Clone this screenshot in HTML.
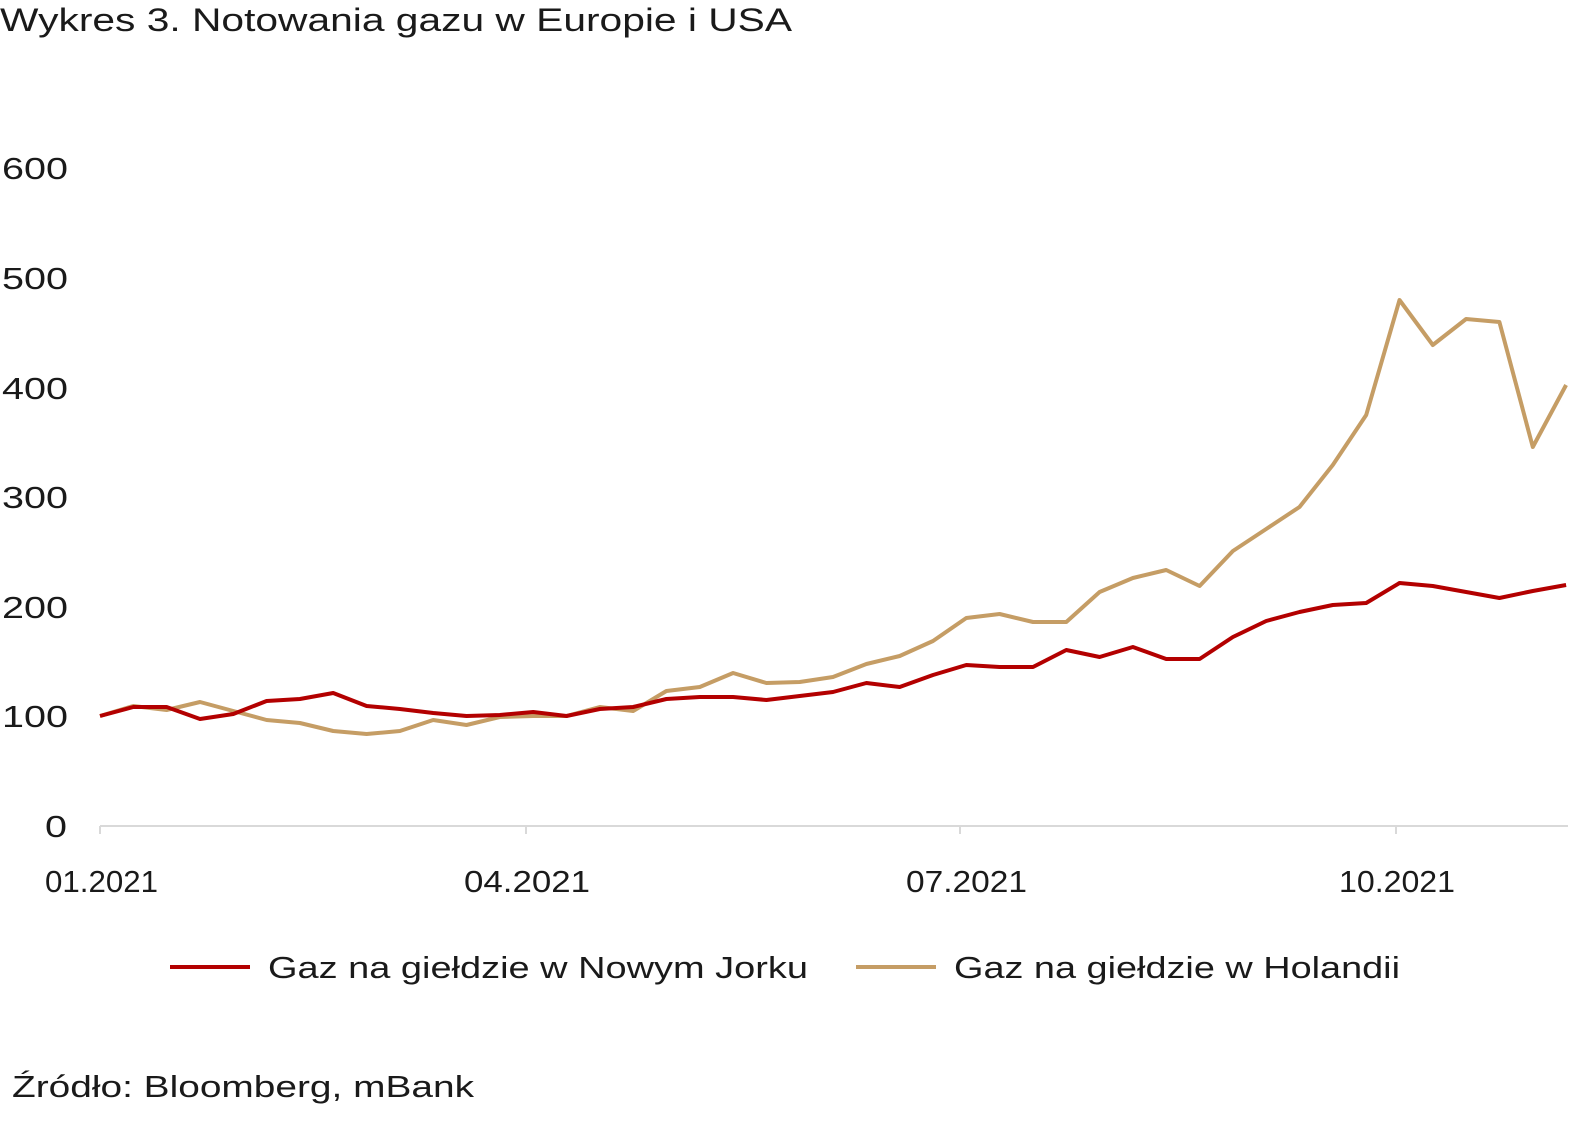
<!DOCTYPE html>
<html><head><meta charset="utf-8"><style>
body{margin:0;background:#fff;}
svg text{font-family:"Liberation Sans",sans-serif;fill:#1a1a1a;}
</style></head><body>
<svg width="1595" height="1126" viewBox="0 0 1595 1126" xmlns="http://www.w3.org/2000/svg">
<text x="0" y="31" font-size="32" textLength="792" lengthAdjust="spacingAndGlyphs">Wykres 3. Notowania gazu w Europie i USA</text>
<g font-size="31">
<text x="2" y="179" textLength="66" lengthAdjust="spacingAndGlyphs">600</text>
<text x="2" y="289" textLength="66" lengthAdjust="spacingAndGlyphs">500</text>
<text x="2" y="399" textLength="66" lengthAdjust="spacingAndGlyphs">400</text>
<text x="2" y="508" textLength="66" lengthAdjust="spacingAndGlyphs">300</text>
<text x="2" y="618" textLength="66" lengthAdjust="spacingAndGlyphs">200</text>
<text x="2" y="727" textLength="66" lengthAdjust="spacingAndGlyphs">100</text>
<text x="45" y="837" textLength="22" lengthAdjust="spacingAndGlyphs">0</text>
<text x="45" y="892" textLength="113" lengthAdjust="spacingAndGlyphs">01.2021</text>
<text x="464" y="892" textLength="126" lengthAdjust="spacingAndGlyphs">04.2021</text>
<text x="906" y="892" textLength="121" lengthAdjust="spacingAndGlyphs">07.2021</text>
<text x="1339" y="892" textLength="116" lengthAdjust="spacingAndGlyphs">10.2021</text>
</g>
<line x1="100" y1="826" x2="1568" y2="826" stroke="#d9d9d9" stroke-width="2"/>
<g stroke="#d9d9d9" stroke-width="2"><line x1="100" y1="826" x2="100" y2="834"/><line x1="526" y1="826" x2="526" y2="834"/><line x1="960" y1="826" x2="960" y2="834"/><line x1="1396" y1="826" x2="1396" y2="834"/></g>
<polyline fill="none" stroke="#c59d65" stroke-width="4" stroke-linejoin="round" id="tan"/>
<polyline fill="none" stroke="#b30000" stroke-width="4" stroke-linejoin="round" id="red"/>
<line x1="170" y1="967" x2="250" y2="967" stroke="#b30000" stroke-width="4"/>
<text x="268" y="978" font-size="31" textLength="540" lengthAdjust="spacingAndGlyphs">Gaz na giełdzie w Nowym Jorku</text>
<line x1="856" y1="967" x2="936" y2="967" stroke="#c59d65" stroke-width="4"/>
<text x="954" y="978" font-size="31" textLength="446" lengthAdjust="spacingAndGlyphs">Gaz na giełdzie w Holandii</text>
<text x="12" y="1097" font-size="31" textLength="462" lengthAdjust="spacingAndGlyphs">Źródło: Bloomberg, mBank</text>
</svg>
<script>
var r=[716,707,707,719,714,701,699,693,706,709,713,716,715,712,716,709,707,699,697,697,700,696,692,683,687,675,665,667,667,650,657,647,659,659,637,621,612,605,603,583,586,592,598,591,585];
var t=[716,706,710,702,711,720,723,731,734,731,720,725,717,716,716,707,711,691,687,673,683,682,677,664,656,641,618,614,622,622,592,578,570,586,551,529,507,465,415,300,345,319,322,447,385];
function p(a){return a.map(function(y,i){return (100+i*33.32).toFixed(1)+","+y}).join(" ");}
document.getElementById("red").setAttribute("points",p(r));
document.getElementById("tan").setAttribute("points",p(t));
</script>
</body></html>
